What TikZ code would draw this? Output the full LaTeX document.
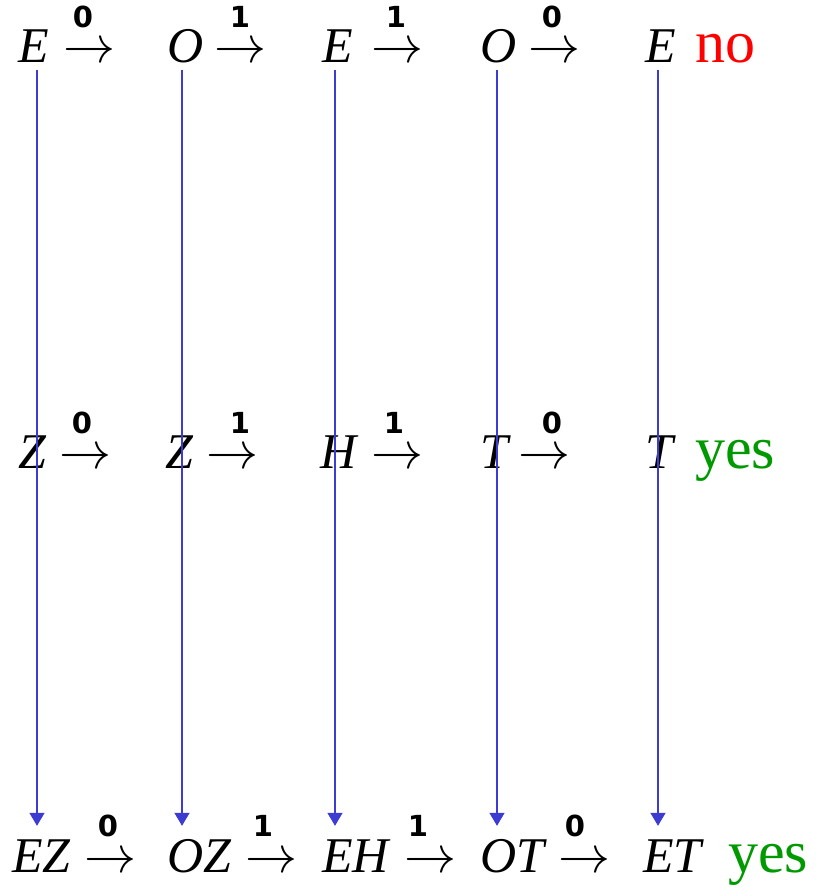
\documentclass[tikz,border=0pt]{standalone}
\usepackage{fontspec}
\setmainfont{Liberation Serif}
\newfontfamily\labfont{DejaVu Sans Bold}
\usetikzlibrary{arrows.meta,calc}
\definecolor{vblue}{RGB}{60,60,210}
\definecolor{yesgreen}{RGB}{0,153,0}
\definecolor{nored}{RGB}{255,0,0}
\newcommand{\bigarr}{\scalebox{5.2}{$\rightarrow$}}
\begin{document}
\begin{tikzpicture}[x=1pt,y=1pt,
  sym/.style={inner sep=0pt,anchor=base west,text height=34pt,text depth=0pt,font=\fontsize{50}{60}\selectfont\itshape},
  arr/.style={inner sep=0pt,anchor=base west},
  lab/.style={inner sep=0pt,anchor=base,font=\fontsize{29}{32}\selectfont\labfont},
  verdict/.style={inner sep=0pt,anchor=base west,font=\fontsize{60}{70}\selectfont},
  vline/.style={draw=vblue,line width=1.5pt,-{Triangle[width=15pt,length=13pt]},shorten <=8pt,shorten >=12pt}]
\useasboundingbox (0,0) rectangle (820,-887);
% column x positions for the vertical connectors
\coordinate (c1) at (37,0);
\coordinate (c2) at (182,0);
\coordinate (c3) at (335,0);
\coordinate (c4) at (497,0);
\coordinate (c5) at (658,0);
% Row 1
\node[sym] (a1) at (18,-62) {E};
\node[arr] (ar11) at (63,-62) {\bigarr};
\node[lab] (l11) at (83,-27) {0};
\node[sym] (a2) at (167,-62) {O};
\node[arr] (ar12) at (214,-62) {\bigarr};
\node[lab] (l12) at (240,-27) {1};
\node[sym] (a3) at (322,-62) {E};
\node[arr] (ar13) at (371,-62) {\bigarr};
\node[lab] (l13) at (396,-27) {1};
\node[sym] (a4) at (480,-62) {O};
\node[arr] (ar14) at (528,-62) {\bigarr};
\node[lab] (l14) at (552,-27) {0};
\node[sym] (a5) at (645,-62) {E};
\node[verdict,text=nored] (v1) at (695,-62) {no};
% Row 2
\node[sym] (b1) at (18,-468) {Z};
\node[arr] (ar21) at (59,-468) {\bigarr};
\node[lab] (l21) at (82,-433) {0};
\node[sym] (b2) at (165,-468) {Z};
\node[arr] (ar22) at (206,-468) {\bigarr};
\node[lab] (l22) at (240,-433) {1};
\node[sym] (b3) at (320,-468) {H};
\node[arr] (ar23) at (371,-468) {\bigarr};
\node[lab] (l23) at (394,-433) {1};
\node[sym] (b4) at (480,-468) {T};
\node[arr] (ar24) at (518,-468) {\bigarr};
\node[lab] (l24) at (552,-433) {0};
\node[sym] (b5) at (645,-468) {T};
\node[verdict,text=yesgreen] (v2) at (695,-468) {yes};
% Row 3
\node[sym] (d1) at (12,-872) {EZ};
\node[arr] (ar31) at (84,-872) {\bigarr};
\node[lab] (l31) at (108,-836) {0};
\node[sym] (d2) at (167,-872) {OZ};
\node[arr] (ar32) at (245,-872) {\bigarr};
\node[lab] (l32) at (263,-836) {1};
\node[sym] (d3) at (322,-872) {EH};
\node[arr] (ar33) at (404,-872) {\bigarr};
\node[lab] (l33) at (418,-836) {1};
\node[sym] (d4) at (480,-872) {OT};
\node[arr] (ar34) at (558,-872) {\bigarr};
\node[lab] (l34) at (575,-836) {0};
\node[sym] (d5) at (643,-872) {ET};
\node[verdict,text=yesgreen] (v3) at (728,-872) {yes};
% vertical connectors
\draw[vline] (c1 |- a1.south) -- (c1 |- d1.north);
\draw[vline] (c2 |- a2.south) -- (c2 |- d2.north);
\draw[vline] (c3 |- a3.south) -- (c3 |- d3.north);
\draw[vline] (c4 |- a4.south) -- (c4 |- d4.north);
\draw[vline] (c5 |- a5.south) -- (c5 |- d5.north);
\end{tikzpicture}
\end{document}
